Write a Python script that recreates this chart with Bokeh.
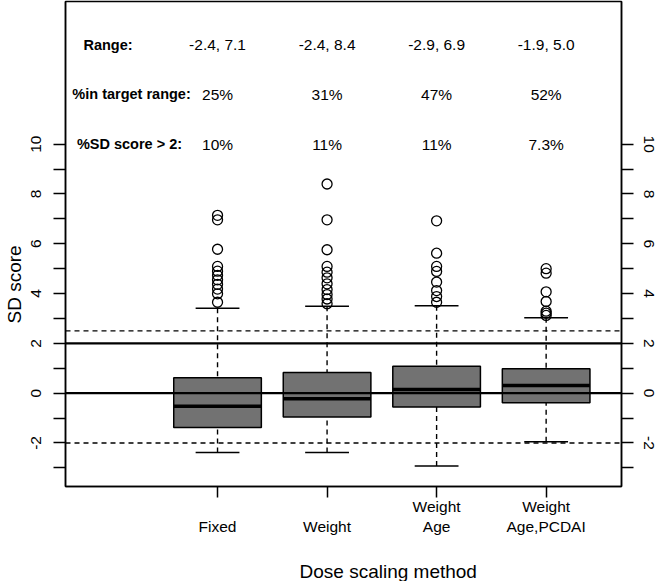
from bokeh.plotting import figure
from bokeh.models import FixedTicker, LinearAxis, Range1d, Span, ColumnDataSource, Title
from bokeh.core.properties import value
from bokeh.embed import file_html
from bokeh.resources import INLINE

# ---- data ----
methods = ["Fixed", "Weight", "Weight\nAge", "Weight\nAge,PCDAI"]
positions = [1, 2, 3, 4]
lower_whisker = [-2.38, -2.38, -2.93, -1.95]
q1 = [-1.38, -0.96, -0.56, -0.39]
median = [-0.53, -0.23, 0.15, 0.31]
q3 = [0.62, 0.83, 1.08, 0.98]
upper_whisker = [3.41, 3.49, 3.51, 3.03]
outliers_fixed = [7.14, 6.96, 5.78, 5.09, 4.90, 4.73, 4.55, 4.37, 4.18, 3.99, 3.65]
outliers_weight = [8.40, 6.96, 5.76, 5.09, 4.86, 4.63, 4.39, 4.16, 3.96, 3.78, 3.59]
outliers_weight_age = [6.92, 5.62, 5.09, 4.89, 4.46, 4.12, 3.88, 3.65]
outliers_weight_age_pcdai = [5.00, 4.82, 4.07, 3.68, 3.29, 3.21, 3.12]
range_text = ["-2.4, 7.1", "-2.4, 8.4", "-2.9, 6.9", "-1.9, 5.0"]
pct_target = ["25%", "31%", "47%", "52%"]
pct_sd_gt2 = ["10%", "11%", "11%", "7.3%"]
row_labels = ["Range:", "%in target range:", "%SD score > 2:"]
row_values = [14, 12, 10]
y_ticks = list(range(-3, 11))
target_lines = [0, 2]
limit_lines = [-2, 2.5]
x_title = "Dose scaling method"
y_title = "SD score"

FONT = "Liberation Sans"

p = figure(width=656, height=581, output_backend="svg", toolbar_location=None,
           x_range=Range1d(-0.388, 4.688), y_range=Range1d(-3.75, 15.73),
           min_border_left=65, min_border_right=35, min_border_top=1, min_border_bottom=95,
           background_fill_color="white", border_fill_color="white")
p.grid.visible = False
p.outline_line_color = "black"
p.outline_line_width = 1.5

# boxes
src = ColumnDataSource(dict(x=positions, q1=q1, q3=q3, med=median, lo=lower_whisker, hi=upper_whisker,
                            xl=[v - 0.2 for v in positions], xr=[v + 0.2 for v in positions],
                            bl=[v - 0.4 for v in positions], br=[v + 0.4 for v in positions]))
p.segment(x0="x", y0="hi", x1="x", y1="q3", source=src, line_color="black", line_width=1.4, line_dash="5 4")
p.segment(x0="x", y0="lo", x1="x", y1="q1", source=src, line_color="black", line_width=1.4, line_dash="5 4")
p.segment(x0="xl", y0="hi", x1="xr", y1="hi", source=src, line_color="black", line_width=1.5)
p.segment(x0="xl", y0="lo", x1="xr", y1="lo", source=src, line_color="black", line_width=1.5)
p.vbar(x="x", width=0.8, bottom="q1", top="q3", source=src, fill_color="#727272",
       line_color="black", line_width=1.5)
p.segment(x0="bl", y0="med", x1="br", y1="med", source=src, line_color="black", line_width=3.5)

ox, oy = [], []
for pos, vals in zip(positions, [outliers_fixed, outliers_weight, outliers_weight_age, outliers_weight_age_pcdai]):
    ox += [pos] * len(vals)
    oy += vals
p.scatter(ox, oy, marker="circle", size=10, fill_color=None, line_color="black", line_width=1.3)

# reference lines
for loc in target_lines:
    p.add_layout(Span(location=loc, dimension="width", line_color="black", line_width=2.2))
for loc in limit_lines:
    p.add_layout(Span(location=loc, dimension="width", line_color="black", line_width=1.4, line_dash="5 4"))

# annotation table
label_x = [0.0, 0.215, 0.196]
p.text(x=label_x, y=row_values, text=row_labels, text_font=value(FONT), text_font_style="bold",
       text_font_size="14.5px", text_align="center", text_baseline="middle", text_color="black")
for row, vals in zip(row_values, [range_text, pct_target, pct_sd_gt2]):
    p.text(x=positions, y=[row] * 4, text=vals, text_font=value(FONT), text_font_size="15.5px",
           text_align="center", text_baseline="middle", text_color="black")

# axes
def style_axis(ax):
    ax.axis_line_color = "black"
    ax.axis_line_width = 1.5
    ax.major_tick_line_color = "black"
    ax.major_tick_line_width = 1.5
    ax.major_tick_in = 0
    ax.major_tick_out = 12
    ax.minor_tick_line_color = None
    ax.major_label_text_font = FONT
    ax.major_label_text_font_size = "15.5px"
    ax.major_label_text_color = "black"

xa = p.xaxis[0]
style_axis(xa)
xa.ticker = FixedTicker(ticks=positions)
xa.major_label_overrides = {pos: (m if "\n" in m else " \n" + m) + "\n " for pos, m in zip(positions, methods)}
xa.major_tick_out = 11
xa.major_label_standoff = 0

overrides = {t: (str(t) if t % 2 == 0 else "") for t in y_ticks}
ya = p.yaxis[0]
style_axis(ya)
ya.ticker = FixedTicker(ticks=y_ticks)
ya.major_label_overrides = overrides
ya.major_label_orientation = "vertical"
ya.major_label_standoff = 12

ra = LinearAxis(ticker=FixedTicker(ticks=y_ticks))
style_axis(ra)
ra.major_label_overrides = overrides
ra.major_label_orientation = "vertical"
ra.major_label_standoff = 10
p.add_layout(ra, "right")

# axis titles
xt = Title(text=x_title, align="left", offset=234, text_font=FONT, text_font_size="19px",
           text_font_style="normal", text_color="black", standoff=0)
p.add_layout(xt, "below")
yt = Title(text=y_title, align="left", offset=163, text_font=FONT, text_font_size="19px",
           text_font_style="normal", text_color="black", standoff=4, vertical_align="top")
p.add_layout(yt, "left")

open("out.html", "w").write(file_html(p, INLINE))
